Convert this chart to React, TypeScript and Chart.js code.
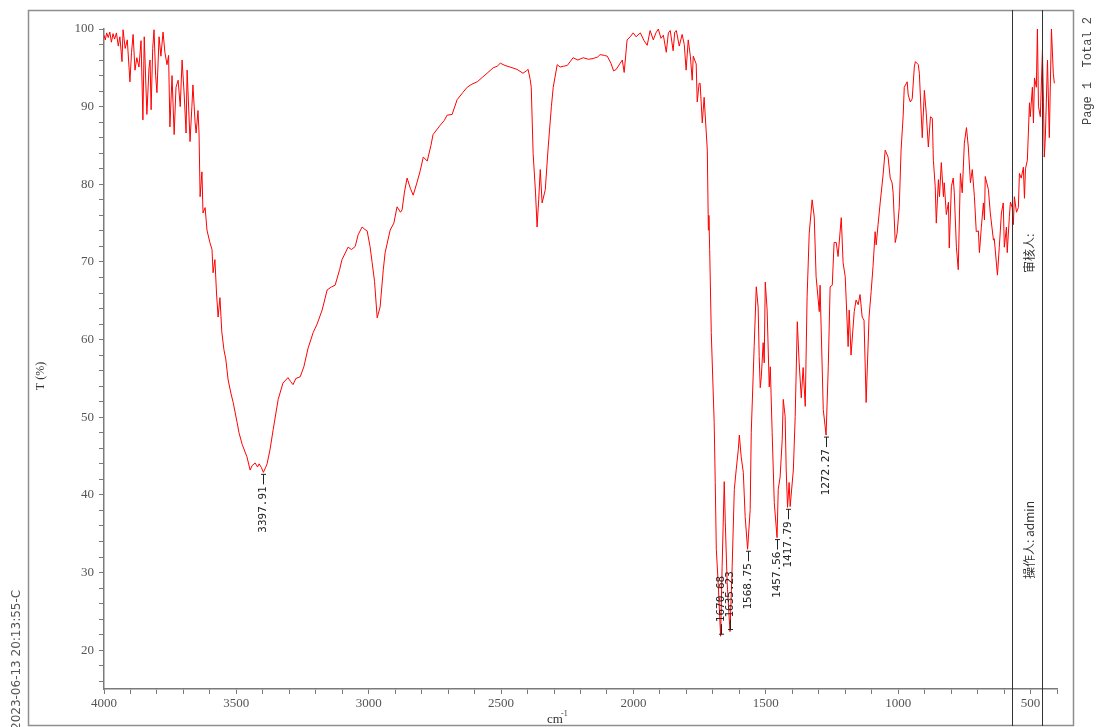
import React, { useEffect, useRef } from 'react';
import { Chart, registerables } from 'chart.js';

Chart.register(...registerables);

const wavenumbers = [
  4000, 3995, 3990, 3984, 3978, 3972, 3966, 3960, 3953, 3946, 3940, 3932, 3928, 3920, 3912, 3902, 3896, 3890, 3883, 3876,
  3868, 3860, 3853, 3848, 3838, 3830, 3826, 3822, 3816, 3811, 3805, 3800, 3792, 3785, 3777, 3770, 3762, 3756, 3751, 3743,
  3735, 3728, 3720, 3712, 3705, 3697, 3690, 3686, 3675, 3668, 3664, 3656, 3652, 3645, 3641, 3637, 3630, 3626, 3618, 3611,
  3600, 3592, 3588, 3581, 3575, 3569, 3562, 3555, 3547, 3540, 3531, 3520, 3512, 3497, 3490, 3478, 3460, 3448, 3440, 3429,
  3420, 3414, 3405, 3397.91, 3390, 3384, 3373, 3361, 3342, 3324, 3305, 3295, 3286, 3275, 3259, 3245, 3229, 3210, 3195, 3176,
  3157, 3140, 3127, 3110, 3101, 3078, 3065, 3051, 3040, 3025, 3015, 3006, 2995, 2987, 2978, 2968, 2957, 2945, 2938, 2919,
  2905, 2893, 2880, 2874, 2865, 2855, 2843, 2832, 2817, 2805, 2794, 2779, 2765, 2757, 2730, 2715, 2704, 2685, 2666, 2645,
  2628, 2610, 2590, 2570, 2553, 2530, 2515, 2503, 2485, 2466, 2440, 2417, 2405, 2398, 2390, 2386, 2379, 2370, 2364, 2358,
  2352, 2345, 2333, 2322, 2310, 2303, 2288, 2277, 2265, 2250, 2228, 2210, 2190, 2170, 2152, 2135, 2126, 2110, 2099, 2085,
  2075, 2065, 2050, 2042, 2035, 2024, 2012, 2001, 1990, 1974, 1960, 1948, 1937, 1925, 1915, 1906, 1896, 1887, 1876, 1868,
  1861, 1850, 1844, 1838, 1827, 1816, 1808, 1801, 1793, 1785, 1778, 1774, 1763, 1759, 1752, 1748, 1740, 1733, 1721, 1717,
  1715, 1712, 1706, 1695, 1691, 1687, 1680, 1670.68, 1665, 1657, 1653, 1646, 1635.23, 1627, 1619, 1612, 1604, 1600, 1593, 1585,
  1578, 1568.75, 1559, 1555, 1544, 1536, 1529, 1525, 1521, 1517, 1510, 1506, 1502, 1495, 1487, 1483, 1476, 1468, 1457.56, 1453,
  1446, 1438, 1434, 1427, 1423, 1417.79, 1412, 1408, 1396, 1389, 1381, 1374, 1366, 1359, 1351, 1344, 1336, 1325, 1317, 1310,
  1298, 1295, 1283, 1272.27, 1264, 1257, 1249, 1242, 1234, 1227, 1215, 1208, 1200, 1189, 1185, 1178, 1166, 1159, 1151, 1144,
  1136, 1129, 1121, 1110, 1102, 1095, 1087, 1083, 1076, 1068, 1057, 1049, 1038, 1030, 1023, 1019, 1011, 1004, 996, 989,
  981, 977, 966, 962, 954, 947, 939, 935, 924, 920, 909, 901, 894, 886, 878, 871, 867, 860, 856, 848,
  844, 837, 829, 826, 818, 810, 807, 799, 792, 788, 780, 773, 765, 758, 750, 742, 735, 727, 720, 712,
  705, 697, 693, 686, 678, 674, 671, 659, 652, 640, 637, 625, 618, 610, 603, 599, 591, 588, 580, 576,
  569, 565, 561, 553, 546, 542, 535, 527, 523, 519, 512, 504, 501, 493, 489, 485, 478, 474, 470, 463,
  455, 451, 448, 444, 436, 429, 421, 414, 410,
];

const transmittance = [
  99.2, 98.6, 99.5, 98.9, 99.6, 98.3, 99.4, 98.7, 99.5, 97.8, 99.0, 95.8, 99.9, 97.5, 98.6, 93.2, 97.0, 99.3, 94.7, 96.3,
  95.1, 98.5, 88.3, 99.0, 89.0, 95.0, 96.0, 89.6, 97.5, 99.9, 94.0, 91.8, 99.0, 96.5, 99.6, 97.0, 95.4, 96.6, 87.4, 94.0,
  86.4, 92.5, 93.4, 90.0, 96.0, 91.5, 86.6, 94.7, 85.5, 90.0, 92.8, 88.0, 86.6, 89.5, 86.6, 78.4, 81.6, 76.3, 77.0, 74.1,
  72.5, 71.6, 68.6, 70.3, 66.0, 62.9, 65.4, 61.0, 58.7, 57.5, 54.8, 53.0, 51.9, 49.3, 48.0, 46.5, 44.9, 43.2, 43.8, 44.1,
  43.6, 44.0, 43.5, 42.9, 43.5, 44.0, 45.8, 48.4, 52.3, 54.4, 55.1, 54.6, 54.2, 55.0, 55.2, 56.5, 58.9, 60.9, 62.0, 63.8,
  66.4, 66.8, 67.0, 69.0, 70.3, 71.9, 71.6, 72.0, 73.5, 74.5, 74.2, 74.0, 72.0, 69.9, 67.5, 62.8, 64.2, 69.0, 71.2, 74.1,
  75.0, 77.1, 76.4, 76.7, 79.0, 80.8, 79.5, 78.6, 80.3, 81.8, 83.5, 83.0, 85.0, 86.4, 87.6, 88.2, 88.9, 89.0, 90.9, 91.8,
  92.5, 92.9, 93.2, 93.8, 94.3, 95.0, 95.2, 95.6, 95.3, 95.1, 94.8, 94.3, 94.6, 94.8, 93.5, 92.5, 84.0, 79.0, 74.5, 78.0,
  81.9, 77.6, 79.3, 84.8, 90.0, 92.5, 95.4, 95.1, 95.2, 95.3, 96.3, 96.0, 96.3, 96.1, 96.2, 96.4, 96.7, 96.6, 96.5, 95.6,
  94.6, 94.8, 95.6, 96.0, 94.4, 98.6, 99.0, 99.5, 99.0, 99.5, 98.5, 97.9, 99.8, 98.6, 99.5, 100.0, 98.8, 99.2, 97.0, 99.5,
  99.8, 97.2, 99.6, 99.8, 97.8, 99.3, 98.0, 94.7, 98.6, 96.5, 93.4, 96.5, 95.5, 90.6, 93.0, 93.0, 87.9, 91.2, 84.4, 74.1,
  76.0, 71.6, 60.9, 49.3, 41.6, 33.0, 28.7, 21.8, 30.8, 41.7, 36.4, 28.7, 22.4, 30.8, 40.7, 43.2, 45.8, 47.7, 44.9, 42.9,
  37.2, 33.0, 38.1, 48.0, 59.1, 66.8, 64.2, 57.8, 53.8, 55.2, 59.6, 57.0, 67.4, 63.8, 53.9, 56.5, 48.0, 39.0, 34.5, 40.7,
  42.3, 47.1, 52.3, 50.1, 43.2, 38.4, 41.6, 38.5, 43.2, 50.1, 62.3, 57.0, 52.5, 56.4, 51.4, 65.5, 73.7, 78.0, 75.8, 68.1,
  63.6, 67.0, 51.0, 47.7, 56.5, 66.8, 67.0, 72.5, 72.5, 70.7, 75.7, 69.9, 68.1, 59.1, 63.8, 58.0, 63.6, 65.1, 64.5, 65.8,
  62.9, 62.5, 51.9, 62.9, 66.2, 69.4, 73.9, 72.2, 74.8, 77.6, 81.2, 84.4, 83.5, 80.8, 80.2, 78.9, 72.5, 73.7, 77.0, 84.4,
  88.9, 92.5, 93.2, 91.5, 90.6, 91.0, 95.1, 95.8, 95.4, 94.3, 86.0, 92.1, 89.2, 84.8, 88.7, 88.5, 83.1, 79.7, 75.0, 80.6,
  78.4, 82.8, 78.4, 80.2, 76.1, 77.7, 71.8, 79.7, 80.8, 78.9, 71.9, 69.0, 81.4, 78.9, 85.3, 87.3, 84.8, 80.2, 81.9, 78.4,
  73.9, 74.0, 71.2, 74.4, 77.6, 75.4, 81.0, 79.3, 76.3, 72.8, 73.0, 68.3, 71.9, 76.3, 77.6, 71.9, 74.5, 71.2, 75.8, 77.7,
  77.0, 74.8, 78.4, 76.4, 77.0, 81.4, 80.8, 82.2, 78.2, 82.0, 83.1, 90.5, 88.7, 92.5, 87.9, 93.7, 92.5, 100.0, 90.0, 88.7,
  97.3, 90.5, 83.5, 86.1, 96.0, 86.0, 100.0, 94.3, 93.0,
];

const peakWavenumbers = [3397.91, 1670.68, 1635.23, 1568.75, 1457.56, 1417.79, 1272.27];
const peakTransmittance = [42.9, 21.8, 22.4, 33.0, 34.5, 38.4, 47.7];
const peakLabelAbove = [false, true, true, false, false, false, false];

const xTickValues = [
  4000, 3900, 3800, 3700, 3600, 3500, 3400, 3300, 3200, 3100, 3000, 2900, 2800, 2700, 2600, 2500, 2400, 2300, 2200,
  2100, 2000, 1900, 1800, 1700, 1600, 1500, 1400, 1300, 1200, 1100, 1000, 900, 800, 700, 600, 500, 400,
];
const xLabelValues = [4000, 3500, 3000, 2500, 2000, 1500, 1000, 500];
const yTickValues = [
  16, 18, 20, 22, 24, 26, 28, 30, 32, 34, 36, 38, 40, 42, 44, 46, 48, 50, 52, 54, 56, 58, 60, 62, 64, 66, 68, 70,
  72, 74, 76, 78, 80, 82, 84, 86, 88, 90, 92, 94, 96, 98, 100,
];
const yLabelValues = [20, 30, 40, 50, 60, 70, 80, 90, 100];

const xAxisTitle = 'cm';
const xAxisTitleSup = '-1';
const yAxisTitle = 'T (%)';
const pageText = 'Page 1  Total 2';
const reviewerText = '审核人:';
const operatorText = '操作人: admin';
const dateText = '2023-06-13 20:13:55-C';

const W = 1096;
const H = 727;

function rotText(ctx: CanvasRenderingContext2D, text: string, x: number, y: number, align: CanvasTextAlign) {
  ctx.save();
  ctx.translate(x, y);
  ctx.rotate(-Math.PI / 2);
  ctx.textAlign = align;
  ctx.textBaseline = 'middle';
  ctx.fillText(text, 0, 0);
  ctx.restore();
}

const decorPlugin = {
  id: 'decor',
  afterDraw(chart: any) {
    const ctx: CanvasRenderingContext2D = chart.ctx;
    const xs = chart.scales.x;
    const ys = chart.scales.y;
    ctx.save();

    // outer frame
    ctx.strokeStyle = '#8e8e8e';
    ctx.lineWidth = 1.5;
    ctx.strokeRect(28.5, 10.5, 1045, 715);

    // signature box
    ctx.strokeStyle = '#333333';
    ctx.lineWidth = 1;
    ctx.beginPath();
    ctx.moveTo(1012.5, 10);
    ctx.lineTo(1012.5, 726);
    ctx.moveTo(1042.5, 10);
    ctx.lineTo(1042.5, 726);
    ctx.stroke();

    // texts
    ctx.fillStyle = '#333333';
    ctx.font = '12px "Liberation Serif"';
    rotText(ctx, yAxisTitle, 41, 376, 'center');

    ctx.font = '13px "Liberation Serif"';
    ctx.textAlign = 'left';
    ctx.textBaseline = 'alphabetic';
    ctx.fillText(xAxisTitle, 547, 723);
    ctx.font = '8px "Liberation Serif"';
    ctx.fillText(xAxisTitleSup, 561, 716);

    ctx.fillStyle = '#444444';
    ctx.font = '12px "Liberation Mono"';
    rotText(ctx, pageText, 1088, 125, 'left');

    ctx.fillStyle = '#333333';
    ctx.font = '12px "Noto Sans CJK SC"';
    rotText(ctx, reviewerText, 1029, 273, 'left');
    rotText(ctx, operatorText, 1029, 579, 'left');

    ctx.fillStyle = '#555555';
    ctx.font = '12px "DejaVu Sans"';
    rotText(ctx, dateText, 17, 730, 'left');

    // peak labels
    ctx.fillStyle = '#222222';
    ctx.strokeStyle = '#222222';
    ctx.lineWidth = 1;
    ctx.font = '11px "DejaVu Sans Mono"';
    peakWavenumbers.forEach((w, i) => {
      const px = Math.round(xs.getPixelForValue(w)) + 0.5;
      const py = ys.getPixelForValue(peakTransmittance[i]);
      const dir = peakLabelAbove[i] ? -1 : 1;
      ctx.beginPath();
      ctx.moveTo(px, py + dir * 2);
      ctx.lineTo(px, py + dir * 12);
      ctx.moveTo(px - 2.5, py + dir * 2);
      ctx.lineTo(px + 2.5, py + dir * 2);
      ctx.stroke();
      rotText(ctx, w.toFixed(2), px, py + dir * 14, peakLabelAbove[i] ? 'left' : 'right');
    });

    ctx.restore();
  },
};

export default function App() {
  const canvasRef = useRef<HTMLCanvasElement | null>(null);

  useEffect(() => {
    document.body.style.margin = '0';
    const canvas = canvasRef.current;
    if (!canvas) return;
    const points = wavenumbers.map((w, i) => ({ x: w, y: transmittance[i] }));
    const axisColor = '#7a7a7a';
    const chart = new Chart(canvas, {
      type: 'line',
      data: {
        datasets: [
          {
            data: points,
            borderColor: '#ff0000',
            borderWidth: 1,
            pointRadius: 0,
            tension: 0,
            fill: false,
          },
        ],
      },
      options: {
        responsive: false,
        animation: false,
        events: [],
        devicePixelRatio: 1,
        layout: { padding: { top: 29, right: 39, bottom: 0, left: 0 } },
        plugins: { legend: { display: false }, tooltip: { enabled: false } },
        scales: {
          x: {
            type: 'linear',
            reverse: true,
            min: 400,
            max: 4000,
            afterFit: (s: any) => {
              s.height = 38;
            },
            afterBuildTicks: (s: any) => {
              s.ticks = xTickValues.map((v) => ({ value: v }));
            },
            ticks: {
              autoSkip: false,
              maxRotation: 0,
              padding: 2,
              color: '#555555',
              font: { family: '"Liberation Serif"', size: 13 },
              callback: (v: any) => (xLabelValues.includes(Number(v)) ? String(v) : ''),
            },
            grid: {
              display: true,
              drawOnChartArea: false,
              drawTicks: true,
              tickLength: 5,
              tickColor: axisColor,
              tickWidth: 1,
            },
            border: { display: true, color: axisColor, width: 1.5 },
          },
          y: {
            type: 'linear',
            min: 15,
            max: 100,
            afterFit: (s: any) => {
              s.width = 104;
            },
            afterBuildTicks: (s: any) => {
              s.ticks = yTickValues.map((v) => ({ value: v }));
            },
            ticks: {
              autoSkip: false,
              padding: 5,
              color: '#555555',
              font: { family: '"Liberation Serif"', size: 13 },
              callback: (v: any) => (yLabelValues.includes(Number(v)) ? String(v) : ''),
            },
            grid: {
              display: true,
              drawOnChartArea: false,
              drawTicks: true,
              tickLength: 5,
              tickColor: axisColor,
              tickWidth: 1,
            },
            border: { display: true, color: axisColor, width: 1.5 },
          },
        },
      },
      plugins: [decorPlugin],
    } as any);
    return () => chart.destroy();
  }, []);

  return (
    <div style={{ position: 'absolute', left: 0, top: 0, width: W, height: H, background: '#fff' }}>
      <canvas ref={canvasRef} width={W} height={H} style={{ display: 'block' }} />
    </div>
  );
}
